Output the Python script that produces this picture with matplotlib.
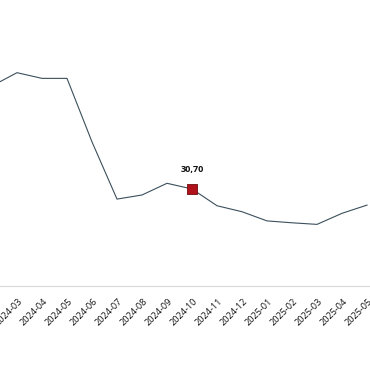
import matplotlib
matplotlib.use("Agg")
import matplotlib.pyplot as plt
from matplotlib.transforms import ScaledTranslation

# monthly values (last label shown: 2024-10 = 30,70)
months = ["2024-02", "2024-03", "2024-04", "2024-05", "2024-06", "2024-07",
          "2024-08", "2024-09", "2024-10", "2024-11", "2024-12", "2025-01",
          "2025-02", "2025-03", "2025-04", "2025-05"]
values = [63.3, 67.5, 65.7, 65.7, 45.6, 27.5, 28.8, 32.5, 30.70, 25.4,
          23.5, 20.6, 20.0, 19.5, 23.0, 25.6]
highlight = "2024-10"

plt.rcParams['font.family'] = ['Open Sans', 'DejaVu Sans']

fig = plt.figure(figsize=(3.7, 3.8), dpi=100)
ax = fig.add_axes([0, 94 / 380, 1, 286 / 380])

x = list(range(len(months)))
ax.plot(x, values, color="#3b4f5c", lw=0.8)

hi = months.index(highlight)
ax.plot(x[hi], values[hi], marker="s", ms=7, color="#b0121b",
        mec="#6e0b10", mew=0.6, ls="none")
ax.annotate(f"{values[hi]:.2f}".replace(".", ","), (x[hi], values[hi]),
            xytext=(0, 11), textcoords="offset points", ha="center",
            va="bottom", fontsize=6.5, fontweight="bold", color="#111111")

ax.set_xticks(x)
ax.set_xticklabels(months, rotation=45, ha="right", va="center",
                   rotation_mode="anchor", fontsize=6.6, color="#111111")
ax.tick_params(axis="x", length=0, pad=10)
ax.set_yticks([])

# the view is a crop of a wider chart: 2024-02 sits just off the left edge
ax.set_xlim(0.32, 15.12)
ax.set_ylim(0, 90.5)

for s in ["top", "left", "right"]:
    ax.spines[s].set_visible(False)
ax.spines["bottom"].set_color("#d9d9d9")
ax.spines["bottom"].set_linewidth(0.8)

# nudge labels right so their end sits a little past the tick
fig.canvas.draw()
shift = ScaledTranslation(4 / 100, 0, fig.dpi_scale_trans)
for lab in ax.get_xticklabels():
    lab.set_transform(lab.get_transform() + shift)

fig.savefig("out.png", dpi=100)
